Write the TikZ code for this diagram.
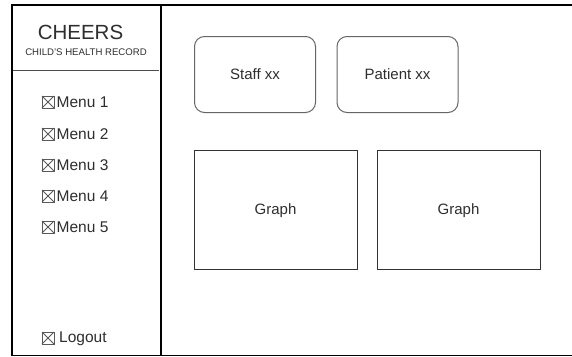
\documentclass[tikz,border=0pt]{standalone}
\usepackage{fontspec}
\setmainfont{Liberation Sans}
\begin{document}
\begin{tikzpicture}[x=1pt,y=-1pt,
  txt/.style={text=black!82, inner sep=0pt},
  card/.style={draw=black!60, line width=1pt, rounded corners=10pt, minimum width=121pt, minimum height=76pt, txt, font=\fontsize{15}{18}\selectfont},
  graphbox/.style={draw=black!80, line width=0.9pt, minimum width=163pt, minimum height=119pt, txt, font=\fontsize{15}{18}\selectfont},
  menuitem/.style={txt, anchor=west, font=\fontsize{15.5}{18}\selectfont},
  chk/.style={draw=black!65, line width=0.8pt}
]
\useasboundingbox (0,0) rectangle (572,356);
\fill[white] (0,0) rectangle (572,356);

% window frame
\draw[line width=2.4pt] (12,356) -- (12,5) -- (573,5);
\draw[line width=1.2pt] (12,355.5) -- (573,355.5);
\draw[line width=1.4pt] (161,5) -- (161,356);

% header
\node[txt, font=\fontsize{20.5}{24}\selectfont] (title) at (80.5,32) {CHEERS};
\node[txt, font=\fontsize{9.6}{11}\selectfont] (subtitle) at (86,52.5) {CHILD'S HEALTH RECORD};
\draw[draw=black!70, line width=0.9pt] (13,70) -- (159,70);

% menu entries with checkbox icons
\foreach \i/\yy in {1/102, 2/134, 3/165, 4/196, 5/227} {
  \draw[chk] (42,\yy-6) rectangle (54,\yy+6);
  \draw[chk] (42,\yy-6) -- (54,\yy+6) (42,\yy+6) -- (54,\yy-6);
  \node[menuitem] (menu\i) at (56.5,\yy) {Menu \i};
}
\draw[chk] (42,332) rectangle (54,344);
\draw[chk] (42,332) -- (54,344) (42,344) -- (54,332);
\node[menuitem] (logout) at (59,338.5) {Logout};

% dashboard cards
\node[card] (staff) at (255,74.5) {Staff xx};
\node[card] (patient) at (397.5,74.5) {Patient xx};
\node[graphbox, text depth=0pt] (graph1) at (275.5,209.5) {Graph};
\node[graphbox, text depth=0pt] (graph2) at (458.5,209.5) {Graph};
\end{tikzpicture}
\end{document}
